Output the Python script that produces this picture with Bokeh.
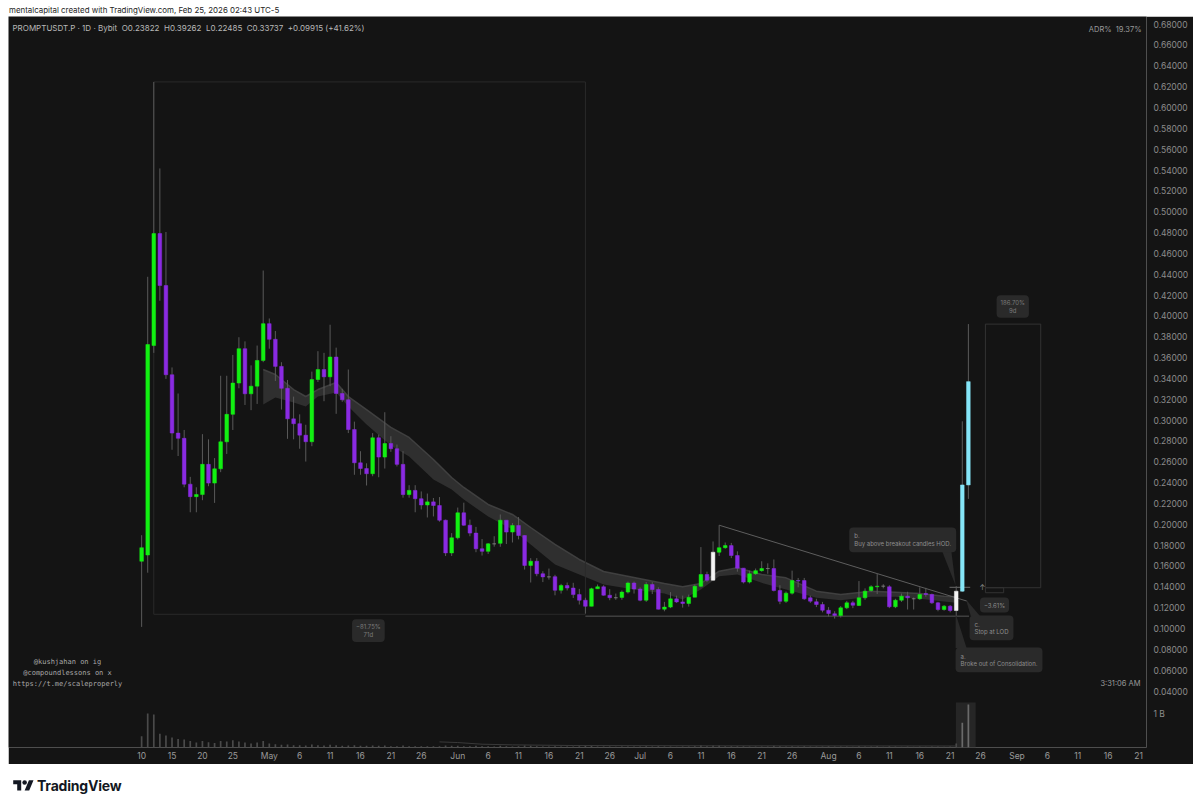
import pandas as pd
from bokeh.plotting import figure
from bokeh.models import Range1d, FixedTicker, PrintfTickFormatter, Label, Div, ColumnDataSource
from bokeh.layouts import column
from bokeh.embed import file_html
from bokeh.resources import INLINE

# ---------------- data ----------------
first_day = "2025-04-10"
last_day = "2025-08-24"

opens = [0.165, 0.171, 0.372, 0.4795, 0.4296, 0.344, 0.288, 0.283, 0.239, 0.227,
         0.229, 0.258, 0.240, 0.2537, 0.2796, 0.306, 0.336, 0.369, 0.3257, 0.333,
         0.3577, 0.393, 0.378, 0.352, 0.331, 0.3017, 0.297, 0.286, 0.2797, 0.3394,
         0.349, 0.342, 0.361, 0.326, 0.320, 0.2914, 0.2595, 0.254, 0.249, 0.2835,
         0.265, 0.278, 0.273, 0.258, 0.229, 0.233, 0.225, 0.219, 0.222, 0.2185,
         0.2044, 0.173, 0.1875, 0.2115, 0.1996, 0.192, 0.177, 0.1745, 0.1817, 0.1822,
         0.2044, 0.193, 0.1993, 0.1897, 0.161, 0.165, 0.153, 0.150, 0.1502, 0.1372,
         0.1417, 0.1393, 0.133, 0.1276, 0.1218, 0.1386, 0.1405, 0.1324, 0.1300, 0.1303,
         0.1354, 0.1441, 0.1383, 0.1276, 0.1427, 0.1379, 0.1190, 0.121, 0.1289, 0.126,
         0.1245, 0.1305, 0.141, 0.1523, 0.1468, 0.1737, 0.178, 0.180, 0.1705, 0.1584,
         0.145, 0.153, 0.156, 0.158, 0.158, 0.1369, 0.1266, 0.1344, 0.1465, 0.1465,
         0.1299, 0.1261, 0.1235, 0.1180, 0.1146, 0.1129, 0.1203, 0.1251, 0.1225, 0.1299,
         0.1370, 0.1405, 0.1411, 0.1405, 0.1213, 0.1276, 0.1315, 0.1290, 0.1290, 0.1340,
         0.1331, 0.1251, 0.1187, 0.1219, 0.1177, 0.1363, 0.23822]
highs = [0.19, 0.438, 0.625, 0.542, 0.481, 0.351, 0.326, 0.291, 0.246, 0.236,
         0.287, 0.282, 0.264, 0.343, 0.343, 0.363, 0.380, 0.376, 0.353, 0.372,
         0.444, 0.398, 0.386, 0.356, 0.339, 0.323, 0.306, 0.296, 0.347, 0.3666,
         0.365, 0.392, 0.370, 0.3305, 0.349, 0.299, 0.2706, 0.259, 0.288, 0.2866,
         0.308, 0.285, 0.277, 0.2706, 0.238, 0.238, 0.232, 0.230, 0.2257, 0.2266,
         0.205, 0.192, 0.2165, 0.2212, 0.205, 0.198, 0.1863, 0.1825, 0.189, 0.2099,
         0.2044, 0.2017, 0.2074, 0.190, 0.168, 0.168, 0.1554, 0.158, 0.152, 0.1433,
         0.1446, 0.1443, 0.1385, 0.130, 0.1396, 0.1427, 0.142, 0.1382, 0.134, 0.137,
         0.1455, 0.1455, 0.140, 0.145, 0.145, 0.140, 0.126, 0.1354, 0.132, 0.132,
         0.133, 0.1427, 0.1786, 0.155, 0.184, 0.1996, 0.183, 0.1826, 0.1745, 0.1585,
         0.156, 0.158, 0.165, 0.163, 0.1667, 0.142, 0.136, 0.156, 0.149, 0.149,
         0.132, 0.129, 0.126, 0.121, 0.117, 0.122, 0.127, 0.127, 0.146, 0.139,
         0.142, 0.1527, 0.143, 0.142, 0.129, 0.134, 0.1357, 0.1302, 0.140, 0.1395,
         0.134, 0.126, 0.123, 0.123, 0.1411, 0.2993, 0.39262]
lows = [0.102, 0.154, 0.365, 0.415, 0.340, 0.272, 0.266, 0.236, 0.212, 0.212,
        0.2236, 0.237, 0.221, 0.2505, 0.268, 0.291, 0.331, 0.315, 0.310, 0.316,
        0.356, 0.369, 0.338, 0.3106, 0.2825, 0.282, 0.273, 0.2607, 0.2754, 0.337,
        0.3186, 0.333, 0.3065, 0.318, 0.288, 0.248, 0.248, 0.2377, 0.2466, 0.2456,
        0.254, 0.270, 0.256, 0.226, 0.226, 0.212, 0.2147, 0.207, 0.208, 0.203,
        0.170, 0.170, 0.1859, 0.199, 0.189, 0.1737, 0.1705, 0.172, 0.179, 0.1789,
        0.1815, 0.183, 0.186, 0.157, 0.1446, 0.1506, 0.145, 0.1474, 0.1323, 0.134,
        0.137, 0.1297, 0.1235, 0.1148, 0.1218, 0.1386, 0.132, 0.1276, 0.128, 0.128,
        0.134, 0.134, 0.1266, 0.126, 0.1335, 0.1187, 0.117, 0.120, 0.125, 0.1205,
        0.1215, 0.1305, 0.140, 0.145, 0.146, 0.170, 0.177, 0.168, 0.155, 0.1437,
        0.1437, 0.152, 0.155, 0.153, 0.136, 0.1238, 0.125, 0.133, 0.140, 0.128,
        0.125, 0.121, 0.116, 0.112, 0.110, 0.111, 0.119, 0.120, 0.122, 0.128,
        0.1355, 0.1335, 0.139, 0.120, 0.120, 0.126, 0.1187, 0.1187, 0.128, 0.131,
        0.124, 0.117, 0.1175, 0.116, 0.1123, 0.1355, 0.22485]
closes = [0.178, 0.373, 0.4795, 0.4296, 0.344, 0.288, 0.283, 0.239, 0.227, 0.229,
          0.258, 0.240, 0.2537, 0.2796, 0.306, 0.336, 0.369, 0.3257, 0.333, 0.3577,
          0.393, 0.378, 0.352, 0.331, 0.3017, 0.297, 0.286, 0.2797, 0.3394, 0.349,
          0.342, 0.361, 0.326, 0.320, 0.2914, 0.2595, 0.254, 0.249, 0.2835, 0.265,
          0.278, 0.273, 0.258, 0.229, 0.233, 0.225, 0.219, 0.222, 0.2185, 0.2044,
          0.173, 0.1875, 0.2115, 0.1996, 0.192, 0.177, 0.1745, 0.1817, 0.1817, 0.2044,
          0.193, 0.1993, 0.1897, 0.161, 0.165, 0.153, 0.150, 0.150, 0.1372, 0.1417,
          0.1393, 0.133, 0.1276, 0.1218, 0.1386, 0.1405, 0.1324, 0.1300, 0.1300, 0.1354,
          0.1441, 0.1383, 0.1276, 0.1427, 0.1379, 0.1190, 0.121, 0.1289, 0.126, 0.1245,
          0.1305, 0.141, 0.1523, 0.1468, 0.1737, 0.178, 0.180, 0.1705, 0.1584, 0.145,
          0.153, 0.156, 0.158, 0.158, 0.1369, 0.1266, 0.1344, 0.1465, 0.1460, 0.1289,
          0.1267, 0.1235, 0.1180, 0.1149, 0.1129, 0.1203, 0.1251, 0.1228, 0.1299, 0.1363,
          0.1405, 0.1411, 0.1411, 0.1213, 0.1276, 0.1315, 0.1299, 0.1290, 0.1331, 0.1331,
          0.1251, 0.1187, 0.1219, 0.1177, 0.1363, 0.23822, 0.33737]
volume_b = [0.34, 1.03, 1.00, 0.42, 0.36, 0.30, 0.26, 0.24, 0.20, 0.15,
            0.20, 0.16, 0.14, 0.20, 0.18, 0.22, 0.18, 0.15, 0.12, 0.15,
            0.20, 0.12, 0.10, 0.08, 0.09, 0.07, 0.07, 0.06, 0.09, 0.07,
            0.06, 0.08, 0.07, 0.05, 0.06, 0.07, 0.05, 0.05, 0.06, 0.05,
            0.06, 0.04, 0.04, 0.06, 0.04, 0.04, 0.04, 0.04, 0.04, 0.04,
            0.06, 0.05, 0.05, 0.04, 0.04, 0.05, 0.04, 0.04, 0.03, 0.05,
            0.04, 0.03, 0.04, 0.06, 0.05, 0.04, 0.03, 0.03, 0.04, 0.03,
            0.03, 0.03, 0.04, 0.05, 0.05, 0.03, 0.03, 0.03, 0.02, 0.03,
            0.03, 0.03, 0.03, 0.04, 0.03, 0.04, 0.03, 0.03, 0.02, 0.03,
            0.03, 0.04, 0.07, 0.04, 0.06, 0.06, 0.04, 0.04, 0.04, 0.04,
            0.03, 0.03, 0.03, 0.03, 0.05, 0.04, 0.03, 0.04, 0.03, 0.04,
            0.03, 0.03, 0.03, 0.04, 0.03, 0.03, 0.03, 0.02, 0.04, 0.03,
            0.03, 0.04, 0.02, 0.04, 0.03, 0.02, 0.03, 0.02, 0.03, 0.02,
            0.03, 0.03, 0.02, 0.03, 0.12, 0.75, 1.30]
white_days = ["2025-07-13", "2025-08-22"]
cyan_days = ["2025-08-23", "2025-08-24"]

# moving-average ribbon
band_dates = ["2025-04-30", "2025-05-02", "2025-05-05", "2025-05-07", "2025-05-09", "2025-05-12",
              "2025-05-14", "2025-05-17", "2025-05-21", "2025-05-24", "2025-05-28", "2025-05-31",
              "2025-06-02", "2025-06-06", "2025-06-10", "2025-06-13", "2025-06-17", "2025-06-21",
              "2025-06-25", "2025-06-30", "2025-07-05", "2025-07-08", "2025-07-11", "2025-07-14",
              "2025-07-17", "2025-07-21", "2025-07-25", "2025-07-30", "2025-08-03", "2025-08-08",
              "2025-08-12", "2025-08-16", "2025-08-20", "2025-08-22"]
band_top = [0.349, 0.3442, 0.3298, 0.3231, 0.3298, 0.3365, 0.3231, 0.3106, 0.2934, 0.2838,
            0.2626, 0.2454, 0.2358, 0.2195, 0.2099, 0.1974, 0.1811, 0.1667, 0.1552, 0.1494,
            0.1436, 0.1405, 0.1437, 0.1555, 0.1587, 0.1523, 0.1491, 0.1363, 0.1331, 0.1363,
            0.1353, 0.1340, 0.1315, 0.1309]
band_bottom = [0.3154, 0.3222, 0.3174, 0.3135, 0.3231, 0.3269, 0.3135, 0.2962, 0.2761, 0.2655,
               0.2435, 0.2339, 0.2243, 0.2079, 0.1955, 0.1811, 0.1619, 0.1523, 0.1427, 0.1379,
               0.1340, 0.1283, 0.1379, 0.1507, 0.1523, 0.1443, 0.1379, 0.1299, 0.1276, 0.1309,
               0.1309, 0.1290, 0.1264, 0.1251]

vol_ma_dates = ["2025-05-29", "2025-06-01", "2025-06-05", "2025-06-10", "2025-06-20", "2025-07-15", "2025-08-22"]
vol_ma_b = [0.17, 0.15, 0.10, 0.08, 0.06, 0.05, 0.045]

price_ticks = [0.04, 0.06, 0.08, 0.10, 0.12, 0.14, 0.16, 0.18, 0.20, 0.22, 0.24, 0.26, 0.28,
               0.30, 0.32, 0.34, 0.36, 0.38, 0.40, 0.42, 0.44, 0.46, 0.48, 0.50, 0.52, 0.54,
               0.56, 0.58, 0.60, 0.62, 0.64, 0.66, 0.68]
date_ticks = ["2025-04-10", "2025-04-15", "2025-04-20", "2025-04-25", "2025-05-01", "2025-05-06",
              "2025-05-11", "2025-05-16", "2025-05-21", "2025-05-26", "2025-06-01", "2025-06-06",
              "2025-06-11", "2025-06-16", "2025-06-21", "2025-06-26", "2025-07-01", "2025-07-06",
              "2025-07-11", "2025-07-16", "2025-07-21", "2025-07-26", "2025-08-01", "2025-08-06",
              "2025-08-11", "2025-08-16", "2025-08-21", "2025-08-26", "2025-09-01", "2025-09-06",
              "2025-09-11", "2025-09-16", "2025-09-21"]
date_tick_labels = ["10", "15", "20", "25", "May", "6", "11", "16", "21", "26", "Jun", "6",
                    "11", "16", "21", "26", "Jul", "6", "11", "16", "21", "26", "Aug", "6",
                    "11", "16", "21", "26", "Sep", "6", "11", "16", "21"]

# ---------------- helpers ----------------
base = pd.Timestamp(first_day)
def day(s):
    return (pd.Timestamp(s) - base).days

dates = pd.date_range(first_day, last_day, freq="D")
xs = [(d - base).days for d in dates]

GREEN = "#12f012"
PURPLE = "#8a2be2"
WHITE = "#f4f4f4"
CYAN = "#86e6f8"
DOJI = "#8a8a8a"
BG = "#141414"

colors = []
vol_colors = []
for d, o, c in zip(dates, opens, closes):
    ds = d.strftime("%Y-%m-%d")
    if ds in white_days:
        colors.append(WHITE)
    elif ds in cyan_days:
        colors.append(CYAN)
    elif c > o:
        colors.append(GREEN)
    elif c < o:
        colors.append(PURPLE)
    else:
        colors.append(DOJI)
    vol_colors.append("#6a6a6a" if ds in cyan_days else "#4a4a4a")

src = ColumnDataSource(dict(
    x=xs, open=opens, high=highs, low=lows, close=closes,
    top=[max(o, c) for o, c in zip(opens, closes)],
    bottom=[min(o, c) for o, c in zip(opens, closes)],
    color=colors, vol=volume_b, vcolor=vol_colors))

# ---------------- figure ----------------
X0, X1 = -21.9, 165.3
Y0, Y1 = -0.01374, 0.6878
VOL_END = 22.15

p = figure(width=1185, height=748, x_range=Range1d(X0, X1), y_range=Range1d(Y0, Y1),
           output_backend="svg", toolbar_location=None, y_axis_location="right",
           background_fill_color=BG, border_fill_color=BG,
           min_border_left=0, min_border_right=47, min_border_top=0, min_border_bottom=17)
p.outline_line_color = None
p.grid.visible = False
p.extra_y_ranges = {"vol": Range1d(0, VOL_END)}

# axes
p_1b = Y0 + (1.0 / VOL_END) * (Y1 - Y0)
ya = p.yaxis[0]
ya.ticker = FixedTicker(ticks=price_ticks + [p_1b])
ya.formatter = PrintfTickFormatter(format="%.5f")
ya.major_label_overrides = {p_1b: "1 B"}
ya.axis_line_color = None
ya.major_tick_line_color = None
ya.minor_tick_line_color = None
ya.major_tick_out = 0
ya.major_tick_in = 0
ya.minor_tick_out = 0
ya.major_label_text_color = "#8c8c8c"
ya.major_label_text_font = "Inter"
ya.major_label_text_font_size = "8.5px"
ya.major_label_standoff = 7

xa = p.xaxis[0]
tick_x = [day(s) for s in date_ticks]
xa.ticker = FixedTicker(ticks=tick_x)
xa.major_label_overrides = {t: lab for t, lab in zip(tick_x, date_tick_labels)}
xa.axis_line_color = None
xa.major_tick_line_color = None
xa.minor_tick_line_color = None
xa.major_tick_out = 0
xa.major_tick_in = 0
xa.minor_tick_out = 0
xa.major_label_text_color = "#9a9a9a"
xa.major_label_text_font = "Inter"
xa.major_label_text_font_size = "8.5px"
xa.major_label_standoff = 3

# ribbon
band_x = [day(s) for s in band_dates]
p.varea(x=band_x, y1=band_bottom, y2=band_top, fill_color="#343434", fill_alpha=0.85)
p.line(band_x, band_top, line_color="#474747", line_width=1.5, line_alpha=0.8)

# volume
p.quad(left=[day("2025-08-22") - 0.05], right=[day("2025-08-24") + 1.2], bottom=[0], top=[1.36],
       y_range_name="vol", fill_color="#262626", line_color=None)
p.vbar(x="x", top="vol", width=0.28, source=src, y_range_name="vol",
       fill_color="vcolor", line_color=None)
p.line([day(s) for s in vol_ma_dates], vol_ma_b, y_range_name="vol",
       line_color="#3a3a3a", line_width=1)

# measurement boxes
p.quad(left=[day("2025-04-12")], right=[day("2025-06-22")], top=[0.625], bottom=[0.1141],
       fill_color=None, line_color="#2a2a2a", line_width=1)
p.quad(left=[138.8], right=[147.9], top=[0.3926], bottom=[0.1396],
       fill_color=None, line_color="#333333", line_width=1)
p.quad(left=[138.8], right=[141.8], top=[0.1396], bottom=[0.1348],
       fill_color=None, line_color="#333333", line_width=1)

# consolidation support + trend line
p.line([day("2025-06-22"), 136.1], [0.1123, 0.1123], line_color="#555555", line_width=1)
p.line([day("2025-07-14"), 135.8], [0.1996, 0.1267], line_color="#5e5e5e", line_width=1)
p.line([132.9, 136.3], [0.1400, 0.1400], line_color="#6a6a6a", line_width=1)

# candles
p.segment(x0="x", y0="high", x1="x", y1="low", source=src, line_color="#5a5a5a", line_width=1)
p.vbar(x="x", top="top", bottom="bottom", width=0.6, source=src,
       fill_color="color", line_color="color", line_width=0.5)

# callout tails
p.patches(xs=[[131.7, 133.2, 133.9], [136.4, 137.9, 135.6], [133.9, 135.7, 133.9]],
          ys=[[0.1743, 0.1743, 0.1417], [0.1125, 0.1125, 0.1283], [0.0818, 0.0818, 0.1149]],
          fill_color="#2a2a2a", line_color=None)

def box_label(x, y, text, align="left", baseline="top", color="#8e8e8e", size="6px", pad=5):
    p.add_layout(Label(x=x, y=y, text=text, text_font="Inter", text_font_size=size,
                       text_color=color, text_align=align, text_baseline=baseline,
                       background_fill_color="#2a2a2a", border_radius=4, padding=pad,
                       text_line_height=1.1))

box_label(116.4, 0.1974, "b.\nBuy above breakout candles HOD.")
box_label(136.2, 0.1129, "c.\nStop at LOD")
box_label(133.9, 0.0822, "a.\nBroke out of Consolidation.")
box_label(37.3, 0.0985, "\u221281.75%\n71d", align="center", baseline="middle", color="#7a7a7a", pad=4)
box_label(143.3, 0.4095, "186.70%\n9d", align="center", baseline="middle", color="#7a7a7a", pad=4)
box_label(140.3, 0.1230, "\u22123.61%", align="center", baseline="middle", color="#8a8a8a", pad=4)

p.add_layout(Label(x=138.3, y=0.1400, text="\u2191", text_font="Inter", text_font_size="7px",
                   text_color="#8a8a8a", text_align="center", text_baseline="middle"))

# header / info texts (screen units, relative to the frame)
NB = "\u00a0"
hdr = ("PROMPTUSDT.P" + NB + "\u00b7" + NB + "1D" + NB + "\u00b7" + NB + "Bybit" + NB * 2 +
       "O0.23822" + NB * 2 + "H0.39262" + NB * 2 + "L0.22485" + NB * 2 + "C0.33737" + NB * 2 +
       "+0.09915" + NB + "(+41.62%)")
p.add_layout(Label(x=4, y=720, x_units="screen", y_units="screen", text=hdr, text_font="Inter",
                   text_font_size="8px", text_color="#b8b8b8", text_baseline="middle"))
p.add_layout(Label(x=1133, y=718, x_units="screen", y_units="screen", text="ADR%" + NB * 2 + "19.37%",
                   text_font="Inter", text_font_size="7.5px", text_color="#9a9a9a",
                   text_align="right", text_baseline="middle"))
p.add_layout(Label(x=1132, y=64, x_units="screen", y_units="screen", text="3:31:06 AM",
                   text_font="Inter", text_font_size="7.5px", text_color="#9a9a9a",
                   text_align="right", text_baseline="middle"))
for i, t in enumerate(["@kushjahan on ig", "@compoundlessons on x", "https://t.me/scaleproperly"]):
    p.add_layout(Label(x=59, y=86 - 11 * i, x_units="screen", y_units="screen", text=t,
                       text_font="DejaVu Sans Mono", text_font_size="7px", text_color="#a8a8a8",
                       text_align="center", text_baseline="middle"))

header = Div(text='<span style="position:relative;left:-4px;top:2px;">mentalcapital created with '
                  'TradingView.com, Feb 25, 2026 02:43 UTC-5</span>',
             width=1185, height=6,
             styles={"font-family": "Inter, sans-serif", "font-size": "7.9px", "color": "#1e1e1e",
                     "line-height": "6px", "overflow": "visible"})
logo_svg = ('<svg width="21" height="16" viewBox="0 0 36 28" style="vertical-align:middle">'
            '<path d="M14 22H7V11H0V4h14v18zM28 22h-8l7.5-18h8L28 22z" fill="#131722"/>'
            '<circle cx="20" cy="8" r="4" fill="#131722"/></svg>')
footer = Div(text='<div style="margin-top:7px;display:flex;align-items:center;gap:3px;">' + logo_svg +
             '<span style="font-family:Inter,sans-serif;font-weight:700;font-size:14px;color:#131722;'
             'letter-spacing:-0.2px;">TradingView</span></div>',
             width=300, height=30)

layout = column(header, p, footer, styles={"margin-left": "8px"})
open("out.html", "w").write(file_html(layout, INLINE))
